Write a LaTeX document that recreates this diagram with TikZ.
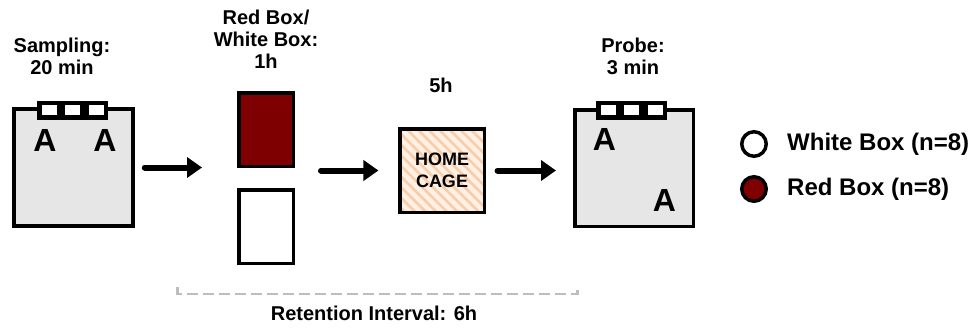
\documentclass[tikz,border=0pt]{standalone}
\usepackage{fontspec}
\setmainfont{Liberation Sans}
\usetikzlibrary{arrows.meta,positioning,patterns.meta}
\definecolor{boxred}{HTML}{7F0000}
\definecolor{arenagray}{HTML}{E6E6E6}
\definecolor{cagepale}{HTML}{FEF0E4}
\definecolor{cagestripe}{HTML}{F9CDA9}
\definecolor{intervalgray}{HTML}{BDBDBD}

\begin{document}
\begin{tikzpicture}[
  x=1pt,y=-1pt,
  lbl/.style={font=\bfseries\fontsize{20}{22}\selectfont,align=center,inner sep=0pt},
  legtext/.style={font=\bfseries\fontsize{24}{26}\selectfont,inner sep=0pt,anchor=west},
  letter/.style={font=\bfseries\fontsize{32}{32}\selectfont,inner sep=0pt},
  arena/.style={draw,line width=3.5pt,fill=arenagray,minimum width=119pt,minimum height=117pt,inner sep=0pt},
  strip/.style={fill=black,minimum width=71pt,minimum height=19pt,inner sep=0pt},
  window/.style={fill=white,minimum width=15pt,minimum height=10.5pt,inner sep=0pt},
  colorbox/.style={draw,line width=3.5pt,minimum width=54.5pt,minimum height=73.5pt,inner sep=0pt},
  cage/.style={draw,line width=3.5pt,minimum width=84.5pt,minimum height=83.5pt,inner sep=0pt,
    preaction={fill=cagepale},pattern={Lines[angle=-45,distance=7.5pt,line width=2.6pt]},pattern color=cagestripe,
    font=\bfseries\fontsize{18}{22}\selectfont,align=center},
  dot/.style={circle,draw,line width=3.5pt,minimum size=24.5pt,inner sep=0pt},
  arr/.style={-{Triangle[length=15pt,width=20pt]},line width=6pt,line cap=round},
  interval/.style={draw=intervalgray,line width=2.5pt,dash pattern=on 11pt off 5pt}
]
\useasboundingbox (0,0) rectangle (976,327);

\node[arena] (sampling) at (73.5,167.5) {};
\node[strip] (samplingstrip) at (72.5,110) {};
\foreach \dx in {-23.5,0,23.5}
  \node[window] at ([xshift=\dx pt]samplingstrip.center) {};
\node[letter] (sampA) at (45,140) {A};
\node[letter] (sampB) at (105,140) {A};
\node[lbl,anchor=north] (samplinglbl) at (62,38) {Sampling:\\20 min};

\node[colorbox,fill=boxred] (redbox) at (266,129.5) {};
\node[colorbox,fill=white] (whitebox) at (266,226.5) {};
\node[lbl,anchor=north] (boxlbl) at (266,10) {Red Box/\\White Box:\\1h};

\node[cage] (homecage) at (442,170.5) {HOME\\CAGE};
\node[lbl] (cagelbl) at (441,85) {5h};

\node[arena,minimum width=118.5pt,minimum height=116.5pt] (probe) at (634,168) {};
\node[strip] (probestrip) at (631.5,110) {};
\foreach \dx in {-23.5,0,23.5}
  \node[window] at ([xshift=\dx pt]probestrip.center) {};
\node[letter] (probeA) at (604.5,139.5) {A};
\node[letter] (probeB) at (664.5,200.5) {A};
\node[lbl,anchor=north] (probelbl) at (633,38) {Probe:\\3 min};

\draw[arr,shorten <=10pt,shorten >=35pt] (sampling.east) -- (sampling.east -| redbox.west);
\draw[arr,shorten <=26pt,shorten >=20pt] (homecage.west -| redbox.east) -- (homecage.west);
\draw[arr,shorten <=12pt,shorten >=17pt] (homecage.east) -- (homecage.east -| probe.west);

\node[dot,fill=white] (whitedot) at (754,144) {};
\node[dot,fill=boxred] (reddot) at (754,189) {};
\node[legtext,right=19pt of whitedot] (whitelbl) {White Box (n=8)};
\node[legtext,right=19pt of reddot] (redlbl) {Red Box (n=8)};

\coordinate (retL) at (177.5,287);
\coordinate (retR) at (577.5,287);
\draw[interval] (retL) -- ++(0,7) -| (retR);
\node[lbl] (retlbl) at (374,313) {Retention Interval: 6h};
\end{tikzpicture}
\end{document}
